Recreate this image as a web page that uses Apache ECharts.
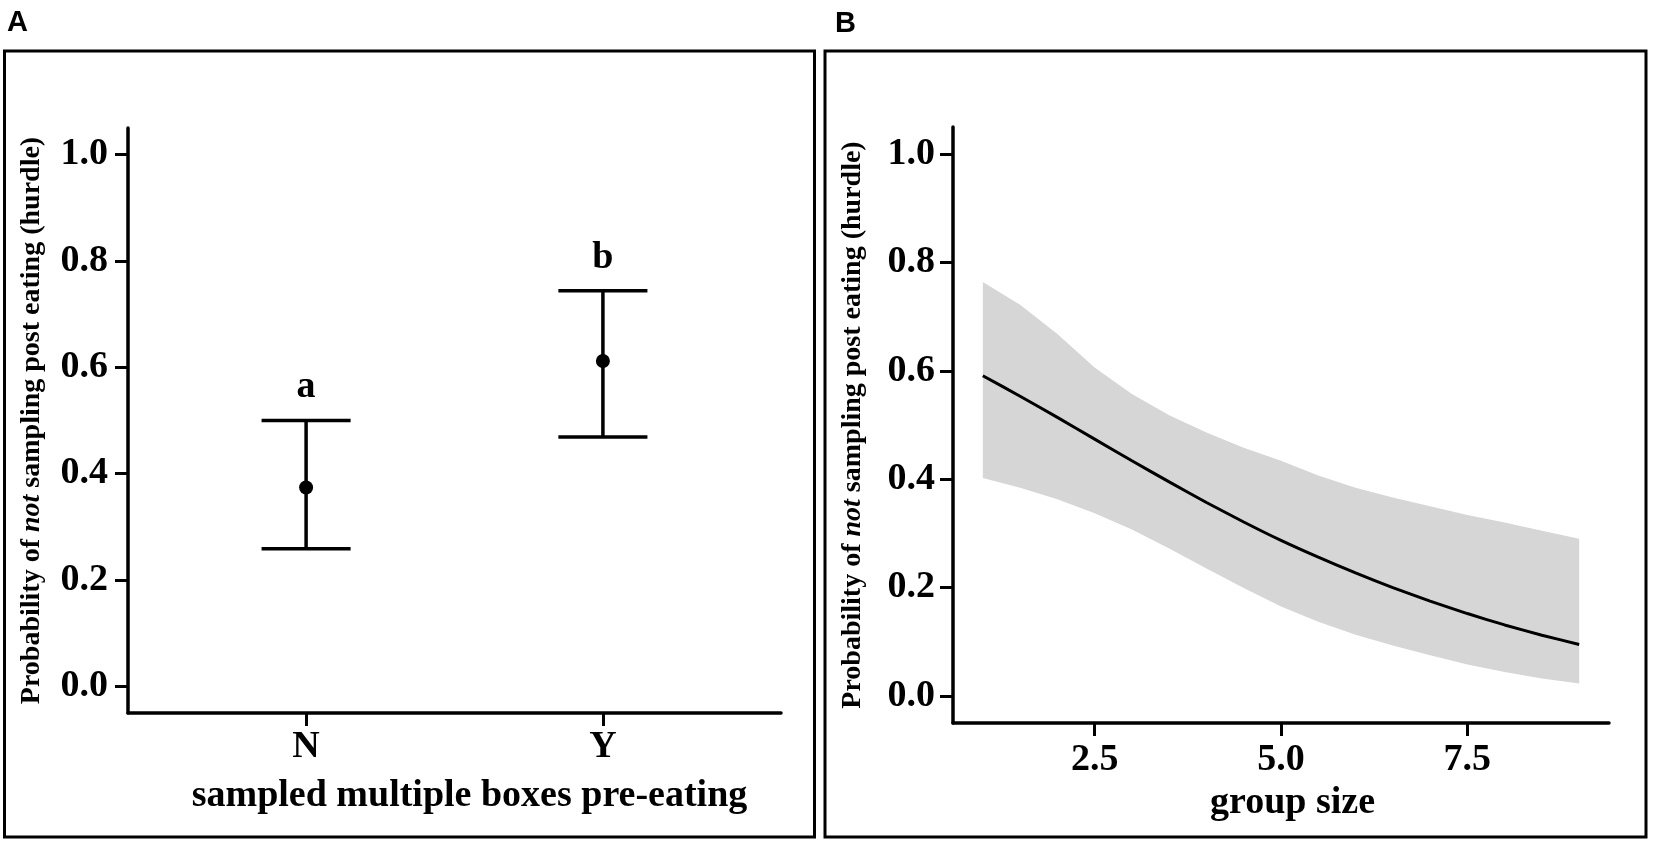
<!DOCTYPE html>
<html>
<head>
<meta charset="utf-8">
<title>hurdle probability</title>
<script src="https://cdn.jsdelivr.net/npm/echarts@6/dist/echarts.min.js"></script>
<style>
    html, body { margin: 0; padding: 0; background: #fff; }
    #main { width: 1654px; height: 846px; }
</style>
</head>
<body>
<div id="main"></div>
<script type="text/javascript">
    // panel A: sampled multiple boxes pre-eating
    var groupsA = ['N', 'Y'];
    var meanA = [0.374, 0.612];
    var lowerA = [0.259, 0.469];
    var upperA = [0.500, 0.744];
    var lettersA = ['a', 'b'];

    // panel B: group size
    var groupSize = [1, 1.5, 2, 2.5, 3, 3.5, 4, 4.5, 5, 5.5, 6, 6.5, 7, 7.5, 8, 8.5, 9];
    var fitB  = [0.591, 0.553, 0.514, 0.474, 0.434, 0.395, 0.357, 0.321, 0.287, 0.256, 0.227, 0.200, 0.175, 0.152, 0.131, 0.112, 0.095];
    var lowB  = [0.402, 0.384, 0.363, 0.337, 0.307, 0.272, 0.235, 0.199, 0.165, 0.137, 0.113, 0.093, 0.075, 0.058, 0.044, 0.032, 0.023];
    var highB = [0.764, 0.722, 0.668, 0.606, 0.557, 0.518, 0.486, 0.458, 0.434, 0.407, 0.384, 0.366, 0.350, 0.334, 0.320, 0.305, 0.290];

    var yTicks = [0, 0.2, 0.4, 0.6, 0.8, 1.0];
    var xTicksB = [2.5, 5.0, 7.5];

    var FONT = "'Liberation Serif', 'Times New Roman', serif";
    var yName = 'Probability of {i|not} sampling post eating (hurdle)';

    function axisBase() {
        return {
            axisLine: { show: true, onZero: false, lineStyle: { color: '#000', width: 3.5 } },
            axisTick: { show: true, length: 13, lineStyle: { color: '#000', width: 3 } },
            splitLine: { show: false },
            axisLabel: { color: '#000', fontFamily: FONT, fontWeight: 'bold', fontSize: 38 }
        };
    }

    function yAxisFor(grid, gap, lblMargin) {
        var ax = axisBase();
        ax.type = 'value';
        ax.gridIndex = grid;
        ax.min = -0.05;
        ax.max = 1.05;
        ax.axisTick.customValues = yTicks;
        ax.axisLabel.customValues = yTicks;
        ax.axisLabel.margin = lblMargin;
        ax.axisLabel.formatter = function (v) { return v.toFixed(1); };
        ax.name = yName;
        ax.nameLocation = 'middle';
        ax.nameRotate = 90;
        ax.nameGap = gap;
        ax.nameTextStyle = {
            color: '#000', fontFamily: FONT, fontWeight: 'bold', fontSize: 28,
            rich: { i: { fontStyle: 'italic', fontWeight: 'bold', fontFamily: FONT, fontSize: 28, color: '#000' } }
        };
        return ax;
    }

    var xA = axisBase();
    xA.type = 'value';
    xA.gridIndex = 0;
    xA.min = 0.4;
    xA.max = 2.6;
    xA.axisTick.customValues = [1, 2];
    xA.axisLabel.customValues = [1, 2];
    xA.axisLabel.margin = 15;
    xA.axisLabel.formatter = function (v) { return groupsA[Math.round(v) - 1]; };
    xA.name = 'sampled multiple boxes pre-eating';
    xA.nameLocation = 'middle';
    xA.nameGap = 64;
    xA.nameTextStyle = { color: '#000', fontFamily: FONT, fontWeight: 'bold', fontSize: 38, padding: [0, 0, 0, 30] };

    var xB = axisBase();
    xB.type = 'value';
    xB.gridIndex = 1;
    xB.min = 0.6;
    xB.max = 9.4;
    xB.axisTick.customValues = xTicksB;
    xB.axisLabel.customValues = xTicksB;
    xB.axisLabel.margin = 18;
    xB.axisLabel.formatter = function (v) { return v.toFixed(1); };
    xB.name = 'group size';
    xB.nameLocation = 'middle';
    xB.nameGap = 58;
    xB.nameTextStyle = { color: '#000', fontFamily: FONT, fontWeight: 'bold', fontSize: 38, padding: [0, 0, 0, 23] };

    var errData = [];
    for (var i = 0; i < groupsA.length; i++) {
        errData.push([i + 1, lowerA[i], upperA[i], i]);
    }
    var meanData = meanA.map(function (m, i) { return [i + 1, m]; });

    var myChart = echarts.init(document.getElementById('main'));

    var option = {
        backgroundColor: '#fff',
        animation: false,
        grid: [
            { left: 128, top: 128, width: 653, height: 585 },
            { left: 953, top: 127, width: 656, height: 596 }
        ],
        xAxis: [xA, xB],
        yAxis: [yAxisFor(0, 82, 20), yAxisFor(1, 86, 18)],
        graphic: [
            { type: 'rect', shape: { x: 4.5, y: 51, width: 810, height: 786 },
              style: { fill: 'none', stroke: '#000', lineWidth: 3 }, silent: true },
            { type: 'rect', shape: { x: 825, y: 51, width: 821, height: 786 },
              style: { fill: 'none', stroke: '#000', lineWidth: 3 }, silent: true },
            { type: 'text', left: 7, top: 8,
              style: { text: 'A', font: 'bold 29px "Liberation Sans", Arial, sans-serif', fill: '#000' } },
            { type: 'text', left: 835, top: 9,
              style: { text: 'B', font: 'bold 29px "Liberation Sans", Arial, sans-serif', fill: '#000' } }
        ],
        series: [
            {
                type: 'custom',
                xAxisIndex: 0, yAxisIndex: 0,
                data: errData,
                renderItem: function (params, api) {
                    var x = api.value(0);
                    var lo = api.coord([x, api.value(1)]);
                    var hi = api.coord([x, api.value(2)]);
                    var half = api.size([0.15, 0])[0];
                    var st = { stroke: '#000', lineWidth: 3.5 };
                    return {
                        type: 'group',
                        children: [
                            { type: 'line', shape: { x1: lo[0], y1: lo[1], x2: hi[0], y2: hi[1] }, style: st },
                            { type: 'line', shape: { x1: lo[0] - half, y1: lo[1], x2: lo[0] + half, y2: lo[1] }, style: st },
                            { type: 'line', shape: { x1: hi[0] - half, y1: hi[1], x2: hi[0] + half, y2: hi[1] }, style: st },
                            { type: 'text', x: hi[0], y: hi[1] - 14,
                              style: { text: lettersA[api.value(3)], fill: '#000', align: 'center', verticalAlign: 'bottom',
                                       font: 'bold 38px ' + FONT } }
                        ]
                    };
                },
                z: 2
            },
            {
                type: 'scatter',
                xAxisIndex: 0, yAxisIndex: 0,
                data: meanData,
                symbol: 'circle',
                symbolSize: 14,
                itemStyle: { color: '#000', opacity: 1 },
                z: 3
            },
            {
                // confidence band: one polygon through the upper then the lower bound
                type: 'custom',
                xAxisIndex: 1, yAxisIndex: 1,
                data: [[groupSize[0], lowB[0]]],
                renderItem: function (params, api) {
                    var pts = [];
                    for (var k = 0; k < groupSize.length; k++) {
                        pts.push(api.coord([groupSize[k], highB[k]]));
                    }
                    for (var k = groupSize.length - 1; k >= 0; k--) {
                        pts.push(api.coord([groupSize[k], lowB[k]]));
                    }
                    return { type: 'polygon', shape: { points: pts }, style: { fill: '#d6d6d6', stroke: 'none' } };
                },
                z: 1
            },
            {
                type: 'line',
                xAxisIndex: 1, yAxisIndex: 1,
                data: groupSize.map(function (x, i) { return [x, fitB[i]]; }),
                symbol: 'none',
                smooth: 0.2,
                lineStyle: { color: '#000', width: 3 },
                z: 2
            }
        ]
    };
    myChart.setOption(option);
</script>
</body>
</html>
